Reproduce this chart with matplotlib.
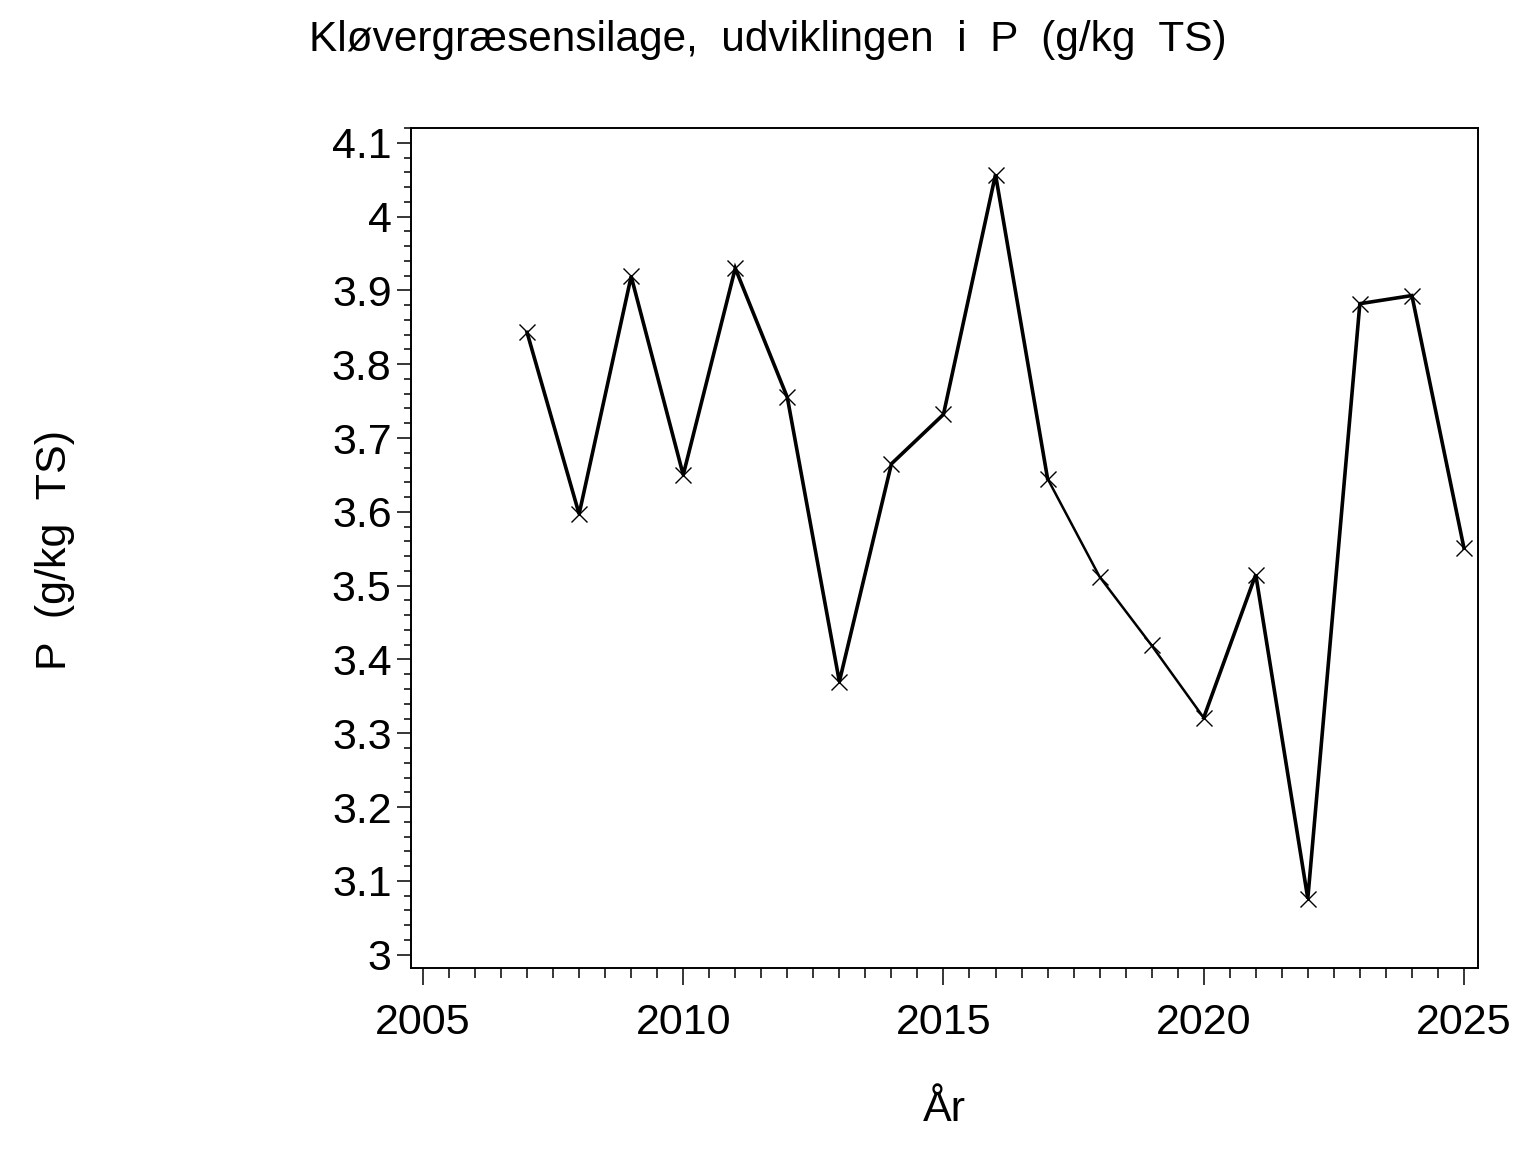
"""Kløvergræsensilage: P (g/kg TS) per år."""

import matplotlib
matplotlib.use("Agg")
import matplotlib.pyplot as plt
from matplotlib.ticker import MultipleLocator

years = [2007, 2008, 2009, 2010, 2011, 2012, 2013, 2014, 2015, 2016,
         2017, 2018, 2019, 2020, 2021, 2022, 2023, 2024, 2025]
p_values = [3.843, 3.597, 3.919, 3.650, 3.930, 3.755, 3.370, 3.665, 3.732, 4.057,
            3.645, 3.512, 3.419, 3.321, 3.515, 3.076, 3.882, 3.893, 3.551]

title = "Kløvergræsensilage,  udviklingen  i  P  (g/kg  TS)"
xlabel = "År"
ylabel = "P  (g/kg  TS)"

plt.rcParams["font.family"] = ["Liberation Sans", "DejaVu Sans"]

fig = plt.figure(figsize=(15.36, 11.52), dpi=100)
ax = fig.add_axes([411 / 1536, 1 - 968 / 1152, (1478 - 411) / 1536, (968 - 128) / 1152])

# thick and thin segments as in the original
ax.plot(years[:11], p_values[:11], color="black", lw=2.6, solid_joinstyle="miter")
ax.plot(years[10:14], p_values[10:14], color="black", lw=1.8)
ax.plot(years[13:], p_values[13:], color="black", lw=2.6, solid_joinstyle="miter")
ax.plot(years, p_values, ls="none", marker="x", ms=11, mew=1.0, color="black")

ax.set_xlim(2004.77, 2025.27)
ax.set_ylim(2.982, 4.12)
ax.xaxis.set_major_locator(MultipleLocator(5))
ax.xaxis.set_minor_locator(MultipleLocator(0.5))
ax.yaxis.set_major_locator(MultipleLocator(0.1))
ax.yaxis.set_minor_locator(MultipleLocator(0.02))
ax.set_yticks([3.0, 3.1, 3.2, 3.3, 3.4, 3.5, 3.6, 3.7, 3.8, 3.9, 4.0, 4.1])
ax.set_yticklabels(["3", "3.1", "3.2", "3.3", "3.4", "3.5", "3.6", "3.7",
                    "3.8", "3.9", "4", "4.1"])

for s in ax.spines.values():
    s.set_linewidth(1.4)
ax.tick_params(axis="y", which="major", length=10, width=1.1, labelsize=31, pad=4)
ax.tick_params(axis="y", which="minor", length=5, width=1.1)
ax.tick_params(axis="x", which="major", length=12, width=1.1, labelsize=31, pad=13)
ax.tick_params(axis="x", which="minor", length=7, width=1.1)

fig.text(0.5, 1 - 40 / 1152, title, ha="center", va="center", fontsize=30.5)
fig.text((411 + 1478) / 2 / 1536, 1 - 1110 / 1152, xlabel, ha="center", va="center",
         fontsize=31)
fig.text(55 / 1536, 1 - 550 / 1152, ylabel, ha="center", va="center", fontsize=31,
         rotation=90)

fig.savefig("out.png", dpi=100)
